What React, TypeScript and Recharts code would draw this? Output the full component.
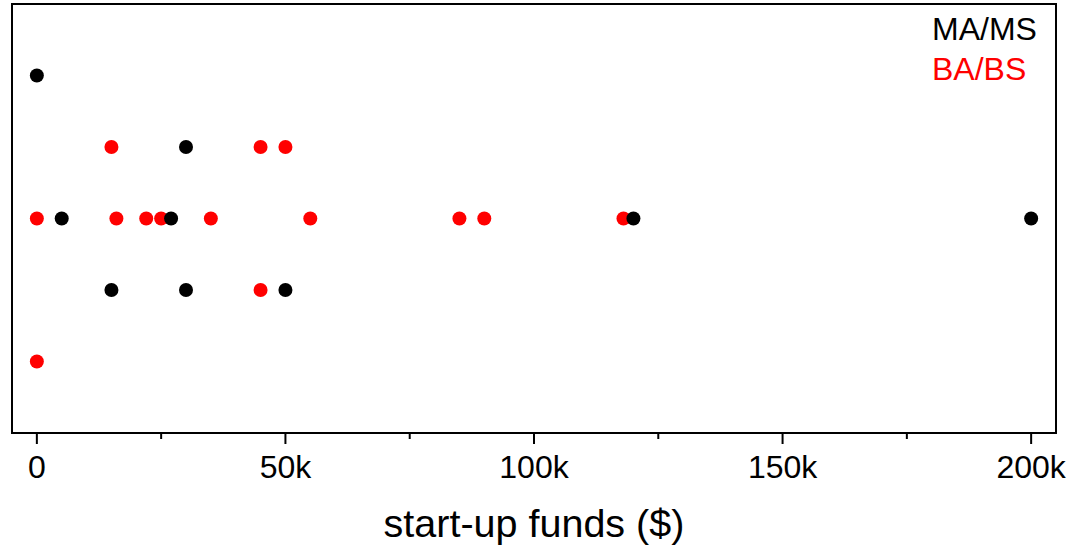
import React from "react";
import {
  ScatterChart,
  Scatter,
  XAxis,
  YAxis,
  ReferenceArea,
  Legend,
} from "recharts";

// start-up funds in dollars, row index on the strip plot (2 = top row)
const maMsFunds = [0, 30000, 5000, 27000, 120000, 200000, 15000, 30000, 50000];
const maMsRow = [2, 1, 0, 0, 0, 0, -1, -1, -1];

const baBsFunds = [15000, 45000, 50000, 0, 16000, 22000, 25000, 35000, 55000, 85000, 90000, 118000, 45000, 0];
const baBsRow = [1, 1, 1, 0, 0, 0, 0, 0, 0, 0, 0, 0, -1, -2];

const xTicks = [0, 25000, 50000, 75000, 100000, 125000, 150000, 175000, 200000];
const majorTicks = [0, 50000, 100000, 150000, 200000];
const legendOrder = ["MA/MS", "BA/BS"];

const FONT = "'Liberation Sans', Arial, Helvetica, sans-serif";

const maMs = maMsFunds.map((x, i) => ({ x, y: maMsRow[i] }));
const baBs = baBsFunds.map((x, i) => ({ x, y: baBsRow[i] }));

const fmtK = (v: number) => (v === 0 ? "0" : `${v / 1000}k`);

function FundsTick(props: any) {
  const { x, y, payload } = props;
  const major = majorTicks.includes(payload.value);
  return (
    <g>
      <line x1={x} x2={x} y1={y} y2={y + (major ? 11 : 6)} stroke="#000" strokeWidth={2} />
      {major && (
        <text x={x} y={y + 45} textAnchor="middle" fontSize={32} fontFamily={FONT} fill="#000">
          {fmtK(payload.value)}
        </text>
      )}
    </g>
  );
}

const dot = (color: string) => (p: any) => <circle cx={p.cx} cy={p.cy} r={7} fill={color} />;

function LegendText({ payload }: any) {
  const items = [...(payload || [])].sort(
    (a: any, b: any) => legendOrder.indexOf(a.value) - legendOrder.indexOf(b.value)
  );
  return (
    <div style={{ fontFamily: FONT, fontSize: 32, lineHeight: "40px", textAlign: "left" }}>
      {items.map((it: any) => (
        <div key={it.value} style={{ color: it.color }}>
          {it.value}
        </div>
      ))}
    </div>
  );
}

export default function App() {
  return (
    <div style={{ position: "absolute", left: 0, top: 0, background: "#fff" }}>
      <ScatterChart width={1080} height={546} margin={{ top: 4, right: 24, left: 12, bottom: 0 }}>
        <ReferenceArea x1={-5000} x2={205000} y1={-3} y2={3} fill="none" stroke="#000" strokeWidth={2} />
        <XAxis
          type="number"
          dataKey="x"
          domain={[-5000, 205000]}
          ticks={xTicks}
          interval={0}
          height={113}
          tickSize={0}
          tickMargin={0}
          tickLine={false}
          axisLine={{ stroke: "#000", strokeWidth: 2 }}
          tick={<FundsTick />}
          label={{
            value: "start-up funds ($)",
            position: "insideBottom",
            offset: 9,
            fontSize: 39.5,
            fontFamily: FONT,
            fill: "#000",
          }}
        />
        <YAxis type="number" dataKey="y" domain={[-3, 3]} hide />
        <Legend
          layout="horizontal"
          verticalAlign="middle"
          align="center"
          content={<LegendText />}
          wrapperStyle={{ position: "absolute", top: 9, left: 932, width: "auto", height: "auto" }}
        />
        <Scatter name="BA/BS" data={baBs} fill="#ff0000" shape={dot("#ff0000")} isAnimationActive={false} />
        <Scatter name="MA/MS" data={maMs} fill="#000000" shape={dot("#000000")} isAnimationActive={false} />
      </ScatterChart>
    </div>
  );
}
